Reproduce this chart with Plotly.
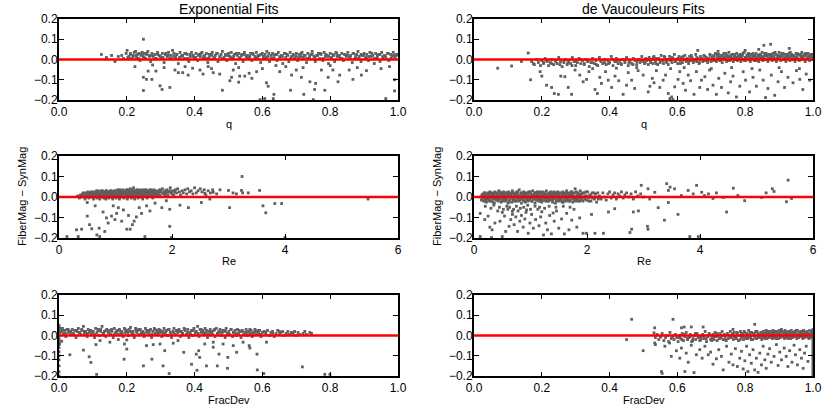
import plotly.graph_objects as go
from plotly.subplots import make_subplots

# ---------------- data (x, FiberMag - SynMag) ----------------
exp_q_band = [(.125,.025),(.14,.01),(.155,.02),(.165,-.01),(.175,.015),(.185,.02),(.19,.005),(.198,.03),(.201,.045),(.206,.015),
(.21,.025),(.214,.005),(.218,.02),(.222,.035),(.226,.04),(.229,.01),(.232,.025),(.236,.03),(.239,-.005),(.242,.02),
(.245,.035),(.248,.015),(.252,.03),(.255,.005),(.258,.025),(.262,.04),(.266,.02),(.27,-.01),(.274,.03),(.278,.015),
(.283,.025),(.287,.005),(.291,.035),(.296,.02),(.3,.01),(.305,.03),(.31,-.015),(.314,.025),(.319,.015),(.323,.035),
(.327,.005),(.331,.02),(.335,.045),(.339,.03),(.344,.01),(.348,.025),(.352,-.02),(.357,.035),(.361,.015),(.365,.02),
(.37,.005),(.374,.03),(.378,.025),(.383,-.01),(.387,.015),(.391,.035),(.396,.02),(.4,.01),(.404,.03),(.409,-.005),
(.413,.025),(.417,.015),(.422,.035),(.426,.005),(.43,.02),(.435,.03),(.439,-.015),(.443,.01),(.448,.025),(.452,.035),
(.456,.005),(.461,.02),(.465,.03),(.469,-.01),(.474,.015),(.478,.025),(.482,.04),(.487,.01),(.491,.02),(.495,-.005),
(.5,.03),(.504,.015),(.508,.035),(.513,.005),(.517,.025),(.521,-.02),(.526,.02),(.53,.03),(.534,.01),(.539,.025),
(.543,-.01),(.547,.035),(.552,.015),(.556,.02),(.56,.005),(.565,.03),(.569,-.005),(.573,.025),(.578,.015),(.582,.035),
(.586,.01),(.591,.02),(.595,-.015),(.6,.03),(.604,.005),(.608,.025),(.613,.04),(.617,.015),(.621,-.01),(.626,.02),
(.63,.03),(.634,.005),(.639,.025),(.643,-.005),(.647,.035),(.652,.015),(.656,.02),(.66,-.02),(.665,.03),(.669,.01),
(.673,.025),(.678,-.01),(.682,.035),(.686,.015),(.691,.02),(.695,.005),(.7,.03),(.704,-.005),(.708,.025),(.713,.015),
(.717,.035),(.721,.01),(.726,.02),(.73,-.015),(.734,.03),(.739,.005),(.743,.025),(.747,.04),(.752,.015),(.756,-.01),
(.76,.02),(.765,.03),(.769,.005),(.773,.025),(.778,-.005),(.782,.035),(.786,.015),(.791,.02),(.795,-.02),(.8,.03),
(.804,.01),(.808,.025),(.813,-.01),(.817,.035),(.821,.015),(.826,.02),(.83,.005),(.834,.03),(.839,-.005),(.843,.025),
(.847,.015),(.852,.035),(.856,.01),(.86,.02),(.865,-.015),(.869,.03),(.873,.005),(.878,.025),(.882,.04),(.886,.015),
(.891,-.01),(.895,.02),(.9,.03),(.904,.005),(.908,.025),(.913,-.005),(.917,.035),(.921,.015),(.926,.02),(.93,-.02),
(.934,.03),(.939,.01),(.943,.025),(.947,-.01),(.952,.035),(.956,.015),(.96,.02),(.965,.005),(.969,.03),(.973,-.005),
(.978,.025),(.982,.015),(.986,.035),(.991,.01),(.995,.02),(.998,.025)]
exp_q_band2 = [(.203,.01),(.211,.03),(.219,.015),(.227,.02),(.235,.005),(.243,.025),(.251,.01),(.259,.03),(.267,.015),(.275,.02),
(.283,.005),(.291,.025),(.299,.015),(.307,.01),(.315,.03),(.323,.02),(.331,.005),(.339,.015),(.347,.025),(.355,.01),
(.363,.02),(.371,.03),(.379,.005),(.387,.025),(.395,.015),(.403,.01),(.411,.02),(.419,.03),(.427,.015),(.435,.005),
(.443,.025),(.451,.02),(.459,.01),(.467,.03),(.475,.015),(.483,.005),(.491,.025),(.499,.02),(.507,.01),(.515,.015),
(.523,.03),(.531,.005),(.539,.02),(.547,.025),(.555,.01),(.563,.015),(.571,.03),(.579,.005),(.587,.02),(.595,.025),
(.603,.015),(.611,.01),(.619,.03),(.627,.005),(.635,.02),(.643,.025),(.651,.01),(.659,.015),(.667,.03),(.675,.02),
(.683,.005),(.691,.025),(.699,.015),(.707,.01),(.715,.03),(.723,.02),(.731,.005),(.739,.015),(.747,.025),(.755,.01),
(.763,.02),(.771,.03),(.779,.005),(.787,.025),(.795,.015),(.803,.01),(.811,.02),(.819,.03),(.827,.015),(.835,.005),
(.843,.025),(.851,.02),(.859,.01),(.867,.03),(.875,.015),(.883,.005),(.891,.025),(.899,.02),(.907,.01),(.915,.015),
(.923,.03),(.931,.005),(.939,.02),(.947,.025),(.955,.01),(.963,.015),(.971,.03),(.979,.005),(.987,.02),(.995,.025)]
exp_q_out = [(.224,-.035),(.249,.10),(.249,-.088),(.249,-.153),(.258,-.098),(.274,-.098),(.263,-.057),(.286,-.057),
(.276,-.027),(.298,-.13),(.304,-.148),(.327,-.138),(.342,-.052),(.352,-.065),(.365,-.065),(.372,-.035),(.381,-.077),
(.394,-.043),(.416,-.052),(.425,-.072),(.44,-.035),(.455,-.065),(.474,-.072),(.482,-.152),(.504,-.105),(.509,-.088),
(.514,-.052),(.53,-.112),(.533,-.082),(.548,-.082),(.561,-.068),(.569,-.093),(.583,-.06),(.593,-.198),(.607,-.193),
(.612,-.115),(.617,-.132),(.632,-.193),(.634,-.172),(.651,-.06),(.669,-.035),(.683,-.152),(.686,-.077),(.7,-.052),
(.715,-.088),(.722,-.172),(.74,-.11),(.75,-.198),(.754,-.148),(.757,-.118),(.774,-.052),(.784,-.152),(.794,-.088),
(.808,-.052),(.823,-.11),(.828,-.077),(.856,-.052),(.867,-.098),(.892,-.077),(.907,-.055),(.964,-.193),(.975,-.035),
(.99,-.155),(.99,-.1),(.31,-.04),(.45,-.045),(.53,-.04),(.6,-.045),(.64,-.03),(.72,-.04),(.8,-.03),(.88,-.04),(.95,-.045)]

dev_q_band = [(.17,-.01),(.178,-.025),(.185,.0),(.19,-.015),(.196,-.03),(.2,-.005),(.205,-.02),(.21,.005),(.215,-.01),(.22,-.03),
(.225,-.015),(.23,.0),(.235,-.025),(.24,-.005),(.245,-.02),(.25,.01),(.255,-.01),(.26,-.035),(.265,-.015),(.27,.0),
(.275,-.025),(.28,-.005),(.285,-.02),(.29,.01),(.295,-.01),(.3,-.03),(.305,-.015),(.31,.005),(.315,-.02),(.32,-.005),
(.325,-.025),(.33,.0),(.335,-.01),(.34,-.035),(.345,-.015),(.35,.005),(.355,-.02),(.36,-.005),(.365,-.03),(.37,.01),
(.375,-.01),(.38,-.02),(.385,.0),(.39,-.025),(.395,-.005),(.4,-.015),(.405,.015),(.41,-.03),(.415,-.01),(.42,.005),
(.425,-.02),(.43,-.005),(.435,-.025),(.44,.0),(.445,-.015),(.45,.01),(.455,-.03),(.46,-.01),(.465,-.02),(.47,.005),
(.475,-.005),(.48,-.025),(.485,.0),(.49,-.015),(.495,.015),(.5,-.01),
(.503,-.02),(.507,.005),(.51,-.005),(.514,-.025),(.517,.01),(.521,-.015),(.524,.0),(.528,-.02),(.531,.015),(.535,-.01),
(.538,.005),(.542,-.025),(.545,.0),(.549,-.015),(.552,.02),(.556,-.005),(.559,-.02),(.563,.01),(.566,-.01),(.57,.0),
(.573,-.025),(.577,.015),(.58,-.005),(.584,-.015),(.587,.005),(.591,.025),(.594,-.01),(.598,.0),(.601,-.02),(.605,.015),
(.608,-.005),(.612,.01),(.615,-.015),(.619,.0),(.622,.02),(.626,-.01),(.629,.005),(.633,-.02),(.636,.015),(.64,-.005),
(.643,.01),(.647,-.015),(.65,.0),(.654,.025),(.657,-.01),(.661,.005),(.664,-.02),(.668,.015),(.671,.0),(.675,-.01),
(.678,.02),(.682,-.005),(.685,.01),(.689,-.015),(.692,.005),(.696,.025),(.699,-.01),
(.702,.01),(.705,-.005),(.707,.02),(.71,.0),(.712,.03),(.715,-.01),(.717,.015),(.72,.005),(.722,.025),(.725,-.005),
(.727,.01),(.73,.02),(.732,-.015),(.735,.005),(.737,.03),(.74,.0),(.742,.015),(.745,-.01),(.747,.02),(.75,.01),
(.752,.035),(.755,-.005),(.757,.015),(.76,.005),(.762,.025),(.765,-.01),(.767,.01),(.77,.02),(.772,.0),(.775,.03),
(.777,-.005),(.78,.015),(.782,.01),(.785,.025),(.787,-.01),(.79,.005),(.792,.02),(.795,.0),(.797,.035),(.8,.01),
(.802,-.005),(.805,.02),(.807,.015),(.81,.03),(.812,.0),(.815,-.01),(.817,.025),(.82,.005),(.822,.015),(.825,.02),
(.827,-.005),(.83,.01),(.832,.03),(.835,.0),(.837,.02),(.84,-.01),(.842,.015),(.845,.025),(.847,.005),(.85,.035),
(.852,-.005),(.855,.01),(.857,.02),(.86,.0),(.862,.03),(.865,.015),(.867,-.01),(.87,.025),(.872,.005),(.875,.02),
(.877,.01),(.88,-.005),(.882,.03),(.885,.015),(.887,.0),(.89,.025),(.892,-.01),(.895,.02),(.897,.005),(.9,.035),
(.902,.01),(.905,-.005),(.907,.02),(.91,.015),(.912,.03),(.915,.0),(.917,.025),(.92,-.01),(.922,.01),(.925,.02),
(.927,.005),(.93,.03),(.932,-.005),(.935,.015),(.937,.025),(.94,.0),(.942,.02),(.945,.01),(.947,-.01),(.95,.03),
(.952,.015),(.955,.005),(.957,.025),(.96,-.005),(.962,.02),(.965,.01),(.967,.035),(.97,.0),(.972,.015),(.975,.025),
(.977,-.01),(.98,.02),(.982,.005),(.985,.03),(.987,.01),(.99,-.005),(.992,.02),(.995,.015),(.997,.025),(.999,.0)]
dev_q_band2 = [(.205,-.015),(.217,-.005),(.229,-.02),(.241,-.01),(.253,-.025),(.265,-.005),(.277,-.015),(.289,-.03),(.301,-.01),(.313,.0),
(.325,-.02),(.337,-.005),(.349,-.015),(.361,-.025),(.373,-.005),(.385,-.015),(.397,-.02),(.409,.0),(.421,-.01),(.433,-.02),
(.445,-.005),(.457,-.015),(.469,-.025),(.481,-.01),(.493,-.005),
(.505,-.015),(.513,.0),(.521,-.01),(.529,.01),(.537,-.02),(.545,.005),(.553,-.005),(.561,.015),(.569,-.015),(.577,.0),
(.585,.01),(.593,-.01),(.601,.005),(.609,-.02),(.617,.015),(.625,.0),(.633,-.01),(.641,.02),(.649,-.005),(.657,.01),
(.665,-.015),(.673,.005),(.681,.015),(.689,-.005),(.697,.02),(.703,.005),(.708,.015),(.713,-.005),(.718,.025),(.723,.01),
(.728,.0),(.733,.02),(.738,.01),(.743,.03),(.748,-.005),(.753,.015),(.758,.02),(.763,.005),(.768,.025),(.773,.01),
(.778,.0),(.783,.02),(.788,.015),(.793,.03),(.798,-.005),(.803,.01),(.808,.025),(.813,.015),(.818,.005),(.823,.03),
(.828,.02),(.833,-.005),(.838,.01),(.843,.025),(.848,.015),(.853,.005),(.858,.03),(.863,.02),(.868,.0),(.873,.015),
(.878,.025),(.883,.01),(.888,.035),(.893,.005),(.898,.02),(.903,.015),(.908,.03),(.913,.0),(.918,.01),(.923,.025),
(.928,.015),(.933,.035),(.938,.005),(.943,.02),(.948,.01),(.953,.03),(.958,.0),(.963,.025),(.968,.015),(.973,.02),
(.978,.03),(.983,.005),(.988,.015),(.993,.025),(.998,.01)]
dev_q_out = [(.07,-.043),(.111,-.032),(.14,-.01),(.16,.032),(.167,-.10),(.175,-.02),(.195,-.06),(.2,-.082),(.214,-.127),
(.229,-.138),(.237,-.168),(.249,-.172),(.256,-.082),(.268,-.085),(.278,-.138),(.288,-.172),(.298,-.052),(.312,-.077),
(.322,-.11),(.332,-.098),(.339,-.06),(.357,-.148),(.364,-.168),(.371,-.088),(.376,-.118),(.388,-.06),(.396,-.102),
(.406,-.138),(.416,-.082),(.42,-.043),(.427,-.105),(.44,-.172),(.45,-.127),(.455,-.065),(.465,-.102),(.474,-.143),
(.484,-.055),(.499,-.077),(.514,-.16),(.519,-.132),(.526,-.093),(.531,-.115),(.538,-.055),(.548,-.138),(.558,-.102),
(.565,-.077),(.573,-.168),(.578,-.193),(.583,-.185),(.587,-.198),(.592,-.135),(.602,-.098),(.607,-.06),(.617,-.118),
(.624,-.152),(.632,-.077),(.639,-.105),(.649,-.172),(.656,-.06),(.666,-.138),(.671,-.102),(.681,-.085),(.689,-.148),
(.695,-.052),(.705,-.127),(.715,-.172),(.722,-.093),(.73,-.138),(.74,-.068),(.75,-.165),(.757,-.11),(.764,-.082),
(.774,-.185),(.784,-.132),(.794,-.06),(.801,-.102),(.813,-.16),(.823,-.088),(.833,-.132),(.843,-.052),(.853,-.102),
(.86,-.188),(.867,-.143),(.877,-.077),(.887,-.177),(.897,-.11),(.907,-.06),(.916,-.138),(.926,-.088),(.941,-.115),
(.951,-.055),(.961,-.098),(.97,-.148),(.98,-.072),(.99,-.102),(.855,.07),(.875,.075),(.84,.05),(.93,.055),(.8,.045),
(.72,.04),(.66,.045),(.35,-.045),(.48,-.04),(.58,-.045),(.62,-.04),(.7,-.045),(.76,-.04),(.82,-.045),(.9,-.04),(.96,-.045)]

exp_re_band = [(.33,.005),(.36,-.005),(.38,.01),(.4,.0),(.42,.015),(.44,.005),(.46,-.01),(.47,.02),(.49,.01),(.5,.0),
(.52,.015),(.53,-.005),(.55,.02),(.56,.01),(.57,.025),(.59,.0),(.6,.015),(.61,-.01),(.62,.02),(.64,.005),
(.65,.025),(.66,.01),(.67,-.005),(.68,.02),(.69,.03),(.7,.005),(.71,.015),(.72,-.01),(.73,.025),(.74,.01),
(.75,.02),(.76,.0),(.77,.03),(.78,.015),(.79,-.005),(.8,.025),(.81,.01),(.82,.02),(.83,-.01),(.84,.03),
(.85,.015),(.86,.005),(.87,.025),(.88,-.005),(.89,.02),(.9,.01),(.91,.03),(.92,.0),(.93,.02),(.94,.015),
(.95,-.01),(.96,.025),(.97,.005),(.98,.03),(.99,.01),(1.0,.02),(1.01,-.005),(1.02,.025),(1.03,.015),(1.04,.035),
(1.05,.005),(1.06,.02),(1.07,-.01),(1.08,.03),(1.09,.01),(1.1,.025),(1.11,.0),(1.12,.02),(1.13,.035),(1.14,.015),
(1.15,-.005),(1.16,.025),(1.17,.01),(1.18,.03),(1.19,.005),(1.2,.02),(1.21,-.01),(1.22,.035),(1.23,.015),(1.24,.025),
(1.25,.005),(1.26,.04),(1.27,.02),(1.28,-.005),(1.29,.03),(1.3,.01),(1.31,.025),(1.32,.045),(1.33,.015),(1.34,-.01),
(1.35,.03),(1.36,.02),(1.37,.005),(1.38,.035),(1.39,.015),(1.4,-.005),(1.41,.025),(1.42,.01),(1.43,.03),(1.44,.02),
(1.45,.0),(1.46,.035),(1.47,.015),(1.48,-.01),(1.49,.025),(1.5,.01),(1.51,.03),(1.52,.02),(1.53,.005),(1.54,.035),
(1.55,.015),(1.56,-.005),(1.57,.025),(1.58,.03),(1.59,.01),(1.6,.02),(1.61,.035),(1.62,.005),(1.63,.025),(1.64,.015),
(1.65,.03),(1.66,-.005),(1.67,.02),(1.68,.035),(1.69,.01),(1.7,.025),(1.72,.015),(1.73,.03),(1.75,.005),(1.76,.02),
(1.78,.035),(1.79,.01),(1.81,.025),(1.83,.04),(1.85,.015),(1.87,.03),(1.89,.02),(1.91,.035),(1.93,.01),(1.95,.025),
(1.97,.045),(1.99,.02),(2.01,.03),(2.03,.01),(2.06,.035),(2.08,.02),(2.1,.04),(2.13,.025),(2.15,.01),(2.18,.03),
(2.2,.02),(2.23,.035),(2.26,.015),(2.28,.04),(2.31,.025),(2.34,.03),(2.37,.015),(2.4,.045),(2.43,.02),(2.46,.03),
(2.5,.04),(2.53,.025),(2.57,.035),(2.6,.01),(2.64,.03),(2.68,.02),(2.72,.035)]
exp_re_band2 = [(.41,.01),(.43,.02),(.45,.005),(.48,.015),(.51,.025),(.54,.01),(.565,.02),(.585,.005),(.605,.025),(.625,.015),
(.645,.01),(.665,.03),(.685,.005),(.7,.02),(.715,.025),(.73,.01),(.745,.03),(.76,.015),(.775,.005),(.79,.025),
(.805,.02),(.82,.01),(.835,.03),(.85,.005),(.865,.02),(.88,.025),(.895,.015),(.91,.005),(.925,.03),(.94,.02),
(.955,.01),(.97,.025),(.985,.015),(1.0,.03),(1.015,.005),(1.03,.02),(1.045,.025),(1.06,.01),(1.075,.035),(1.09,.02),
(1.105,.005),(1.12,.03),(1.135,.015),(1.15,.025),(1.165,.01),(1.18,.02),(1.195,.035),(1.21,.015),(1.225,.005),(1.24,.03),
(1.255,.02),(1.27,.01),(1.285,.025),(1.3,.035),(1.315,.015),(1.33,.005),(1.345,.02),(1.36,.03),(1.375,.01),(1.39,.025),
(1.405,.035),(1.42,.015),(1.435,.02),(1.45,.03),(1.465,.005),(1.48,.025),(1.495,.015),(1.51,.035),(1.525,.01),(1.54,.02),
(1.555,.03),(1.57,.015),(1.585,.005),(1.6,.025),(1.615,.02),(1.63,.035),(1.645,.01),(1.66,.025),(1.675,.015),(1.69,.03),
(1.71,.02),(1.74,.01),(1.77,.025),(1.8,.03),(1.84,.02),(1.88,.01),(1.92,.025),(1.96,.03),(2.0,.015),(2.05,.025)]
exp_re_out = [(.14,-.193),(.34,-.193),(.31,-.16),(.4,-.157),(.5,-.027),(.5,-.093),(.54,-.135),(.58,-.155),(.64,-.043),
(.67,-.185),(.71,-.152),(.72,-.193),(.78,-.073),(.81,-.168),(.84,-.102),(.87,-.127),(.93,-.093),(.96,-.043),(.99,-.11),
(1.02,-.08),(1.05,-.052),(1.11,-.118),(1.14,-.063),(1.2,-.157),(1.23,-.09),(1.26,-.157),(1.3,-.135),(1.33,-.118),
(1.37,-.097),(1.42,-.052),(1.46,-.08),(1.52,-.193),(1.55,-.043),(1.61,-.068),(1.7,-.03),(1.82,-.052),(1.9,-.018),
(1.96,-.06),(1.96,-.143),(1.99,-.197),(2.14,-.04),(2.29,-.052),(2.52,-.027),(3.02,-.052),(2.67,-.01),(2.85,.035),
(3.0,.032),(3.08,.02),(3.23,.032),(3.24,.10),(3.25,.02),(3.35,.02),(3.55,.032),(3.61,-.043),(3.66,-.077),(3.82,-.032),
(3.94,-.032),(4.0,-.197),(5.47,-.01),(2.73,.023),(2.58,.018),(2.79,.015),(3.14,.015)]

dev_re_band = [(.12,.0),(.13,-.015),(.14,.01),(.15,-.005),(.16,.015),(.17,-.02),(.18,.005),(.19,.02),(.2,-.01),(.21,.01),
(.22,-.025),(.23,.015),(.24,.0),(.25,.02),(.26,-.015),(.27,.005),(.28,.025),(.29,-.005),(.3,.01),(.31,-.02),
(.32,.02),(.33,.0),(.34,-.01),(.35,.015),(.36,-.03),(.37,.025),(.38,.005),(.39,-.015),(.4,.02),(.41,-.005),
(.42,.01),(.43,-.02),(.44,.03),(.45,.0),(.46,-.01),(.47,.015),(.48,-.025),(.49,.02),(.5,.005),(.51,-.015),
(.52,.025),(.53,-.005),(.54,.01),(.55,-.02),(.56,.02),(.57,.0),(.58,-.01),(.59,.015),(.6,-.03),(.61,.025),
(.62,.005),(.63,-.015),(.64,.02),(.65,-.005),(.66,.01),(.67,-.025),(.68,.03),(.69,.0),(.7,-.01),(.71,.015),
(.72,-.02),(.73,.02),(.74,.005),(.75,-.015),(.76,.025),(.77,-.005),(.78,.01),(.79,-.02),(.8,.035),(.81,.0),
(.82,-.01),(.83,.015),(.84,-.03),(.85,.02),(.86,.005),(.87,-.015),(.88,.025),(.89,-.005),(.9,.01),(.91,-.025),
(.92,.02),(.93,.0),(.94,-.01),(.95,.015),(.96,-.02),(.97,.025),(.98,.005),(.99,-.015),(1.0,.02),(1.01,-.005),
(1.02,.01),(1.03,-.02),(1.04,.03),(1.05,.0),(1.06,-.01),(1.07,.015),(1.08,-.03),(1.09,.02),(1.1,.005),(1.11,-.015),
(1.12,.025),(1.13,-.005),(1.14,.01),(1.15,-.02),(1.16,.02),(1.17,.0),(1.18,-.01),(1.19,.015),(1.2,-.025),(1.21,.025),
(1.22,.005),(1.23,-.015),(1.24,.02),(1.25,-.005),(1.26,.01),(1.27,-.02),(1.28,.03),(1.29,.0),(1.3,-.01),(1.31,.015),
(1.32,-.02),(1.33,.02),(1.34,.005),(1.35,-.015),(1.36,.025),(1.37,-.005),(1.38,.01),(1.39,-.025),(1.4,.02),(1.41,.0),
(1.42,-.01),(1.43,.015),(1.44,-.03),(1.45,.02),(1.46,.005),(1.47,-.015),(1.48,.025),(1.49,-.005),(1.5,.01),(1.51,-.02),
(1.52,.02),(1.53,.0),(1.54,-.01),(1.55,.015),(1.56,-.025),(1.57,.025),(1.58,.005),(1.59,-.015),(1.6,.02),(1.61,-.005),
(1.62,.01),(1.63,-.02),(1.64,.03),(1.65,.0),(1.66,-.01),(1.67,.015),(1.68,-.02),(1.69,.02),(1.7,.005),(1.71,-.015),
(1.72,.025),(1.73,-.005),(1.74,.01),(1.75,-.025),(1.76,.02),(1.77,.0),(1.78,-.01),(1.79,.04),(1.8,-.02),(1.81,.025),
(1.82,.005),(1.83,-.015),(1.84,.02),(1.85,-.005),(1.86,.01),(1.87,-.02),(1.88,.03),(1.89,.0),(1.9,-.01),(1.91,.015),
(1.93,-.02),(1.95,.02),(1.97,.005),(1.99,-.015),(2.01,.025),(2.03,-.005),(2.05,.01),(2.07,-.02),(2.09,.02),(2.11,.0),
(2.13,-.01),(2.15,.015),(2.17,-.025),(2.19,.02),
(2.22,.005),(2.25,-.01),(2.28,.02),(2.31,.0),(2.34,-.015),(2.37,.015),(2.4,.025),(2.43,-.005),(2.46,.01),(2.49,.02),
(2.52,-.01),(2.55,.015),(2.58,.005),(2.61,.025),(2.64,-.005),(2.67,.01),(2.7,.02),(2.74,.0),(2.78,.015),(2.82,-.01),
(2.86,.025),(2.9,.005),(2.95,.015),(3.0,.0)]
dev_re_band2 = [(.155,.01),(.17,-.005),(.185,.02),(.2,-.02),(.215,.005),(.23,-.01),(.245,.015),(.26,.0),(.275,-.02),(.29,.02),
(.305,-.005),(.32,.01),(.335,-.025),(.35,.005),(.365,.02),(.38,-.01),(.395,.0),(.41,.015),(.425,-.015),(.44,.01),
(.455,.025),(.47,-.005),(.485,.0),(.5,-.02),(.515,.015),(.53,.005),(.545,-.01),(.56,.02),(.575,-.015),(.59,.0),
(.605,.01),(.62,-.025),(.635,.015),(.65,.005),(.665,-.005),(.68,.02),(.695,-.015),(.71,.0),(.725,.01),(.74,-.02),
(.755,.015),(.77,.025),(.785,-.005),(.8,.005),(.815,-.015),(.83,.02),(.845,.0),(.86,-.01),(.875,.01),(.89,-.02),
(.905,.015),(.92,.005),(.935,-.015),(.95,.02),(.965,.0),(.98,-.01),(.995,.025),(1.01,.005),(1.025,-.02),(1.04,.01),
(1.055,-.005),(1.07,.02),(1.085,.0),(1.1,-.015),(1.115,.015),(1.13,.005),(1.145,-.01),(1.16,.025),(1.175,-.02),(1.19,.0),
(1.205,.01),(1.22,-.015),(1.235,.02),(1.25,.005),(1.265,-.005),(1.28,.015),(1.295,-.02),(1.31,.0),(1.325,.01),(1.34,-.01),
(1.355,.02),(1.37,.005),(1.385,-.015),(1.4,.01),(1.415,.025),(1.43,-.005),(1.445,.0),(1.46,-.02),(1.475,.015),(1.49,.005),
(1.505,-.01),(1.52,.02),(1.535,-.015),(1.55,.0),(1.565,.01),(1.58,-.025),(1.595,.015),(1.61,.005),(1.625,-.005),(1.64,.02),
(1.655,-.015),(1.67,.0),(1.685,.01),(1.7,-.02),(1.715,.015),(1.73,.025),(1.745,-.005),(1.76,.005),(1.775,-.015),(1.79,.02),
(1.805,.0),(1.82,-.01),(1.835,.01),(1.85,-.02),(1.865,.015),(1.88,.005),(1.9,-.015),(1.92,.02),(1.94,.0),(1.96,-.01),
(1.98,.025),(2.0,.005),(2.03,-.02),(2.06,.01),(2.09,-.005),(2.12,.02),(2.16,.0),(2.2,-.01)]
dev_re_out = [(.11,-.08),(.19,-.11),(.25,-.093),(.28,-.147),(.32,-.16),(.37,-.127),(.42,-.068),(.46,-.118),(.5,-.193),
(.54,-.093),(.56,-.168),(.6,-.06),(.62,-.143),(.65,-.11),(.68,-.085),(.71,-.135),(.74,-.097),(.77,-.168),(.78,-.068),
(.81,-.118),(.84,-.09),(.87,-.147),(.9,-.107),(.93,-.063),(.96,-.177),(.99,-.127),(1.02,-.085),(1.05,-.152),(1.09,-.11),
(1.13,-.06),(1.15,-.14),(1.18,-.097),(1.23,-.185),(1.27,-.127),(1.3,-.16),(1.34,-.09),(1.37,-.18),(1.42,-.118),
(1.46,-.068),(1.5,-.152),(1.55,-.107),(1.6,-.18),(1.64,-.08),(1.68,-.16),(1.73,-.113),(1.77,-.06),(1.82,-.147),
(1.87,-.102),(1.93,-.177),(1.99,-.177),(2.08,-.085),(2.14,-.177),(2.29,-.177),(2.38,-.073),(2.49,-.057),(2.76,-.173),
(2.79,-.157),(2.82,-.073),(2.91,-.068),(3.07,-.143),(3.08,-.157),(3.26,-.052),(3.37,-.113),(3.61,-.085),(3.82,-.193),
(3.97,-.193),(4.47,-.073),(.11,-.193),(.31,-.198),
(.2,-.045),(.3,-.055),(.35,-.04),(.45,-.05),(.52,-.06),(.58,-.045),(.63,-.05),(.7,-.06),(.75,-.045),(.82,-.055),
(.88,-.05),(.95,-.04),(1.0,-.06),(1.08,-.045),(1.16,-.05),(1.25,-.055),(1.33,-.045),(1.45,-.05),(1.58,-.045),(1.7,-.05),
(.5,-.075),(.68,-.07),(.92,-.075),(1.2,-.072),(1.4,-.078),
(3.41,.065),(3.47,.048),(3.55,.04),(3.79,.032),(3.94,.057),(4.03,.023),(4.15,.015),(4.29,.02),(4.59,.043),(4.67,.007),
(5.17,.02),(5.28,.04),(5.31,.027),(5.56,.082),(5.53,-.023),(5.62,-.007),(4.79,-.018),(5.09,-.002),(4.41,-.002),
(4.23,-.007),(4.08,.007),(3.88,.015),(3.67,.007),(3.44,.032),(3.2,.023),(3.08,.04),(2.96,.057),(3.11,-.01),(3.44,-.027)]

exp_fd_band = [(.005,.02),(.01,.035),(.013,.01),(.017,.025),(.02,-.005),(.024,.03),(.028,.015),(.031,.02),(.035,.005),(.039,.03),
(.042,.01),(.046,.025),(.05,-.01),(.053,.02),(.057,.035),(.061,.015),(.064,.005),(.068,.025),(.072,.045),(.075,.01),
(.079,.02),(.083,-.005),(.086,.03),(.09,.015),(.094,.025),(.097,.005),(.101,.02),(.105,-.01),(.108,.035),(.112,.015),
(.116,.025),(.119,.0),(.123,.03),(.127,.045),(.13,.01),(.134,.02),(.138,-.005),(.141,.03),(.145,.015),(.149,.025),
(.152,.005),(.156,.02),(.16,-.01),(.163,.035),(.167,.015),(.171,.025),(.174,.005),(.178,.03),(.182,.01),(.185,.02),
(.189,-.005),(.193,.035),(.196,.015),(.2,.025),(.204,.0),(.207,.03),(.211,.04),(.215,.01),(.218,.02),(.222,-.01),
(.226,.035),(.229,.015),(.233,.025),(.237,.005),(.24,.03),(.244,.01),(.248,.02),(.251,-.005),(.255,.035),(.259,.015),
(.262,.025),(.266,.005),(.27,.03),(.273,-.01),(.277,.02),(.281,.035),(.284,.01),(.288,.025),(.292,.005),(.295,.03),
(.299,.015),(.303,-.005),(.306,.02),(.31,.035),(.314,.01),(.317,.025),(.321,.0),(.325,.03),(.328,.015),(.332,-.01),
(.336,.02),(.339,.035),(.343,.005),(.347,.025),(.35,.015),(.354,.03),(.358,-.005),(.361,.02),(.365,.01),(.369,.035),
(.372,.025),(.376,.005),(.38,.03),(.383,-.01),(.387,.015),(.391,.025),(.394,.0),(.398,.035),(.402,.01),(.405,.02),
(.409,.045),(.413,-.005),(.416,.03),(.42,.015),(.424,.025),(.427,.005),(.431,.035),(.435,.01),(.438,-.01),(.442,.02),
(.446,.03),(.449,.015),(.453,.005),(.457,.025),(.46,-.005),(.464,.035),(.468,.01),(.471,.02),(.475,.03),(.479,.0),
(.482,.015),(.486,.025),(.49,-.01),(.493,.035),(.497,.01),(.501,.02),(.504,.005),(.508,.03),(.512,-.005),(.515,.015),
(.519,.025),(.523,.0),(.526,.03),(.53,.01),(.534,.02),(.537,-.01),(.541,.025),(.545,.005),(.548,.015),(.552,.03),
(.556,.0),(.559,.02),(.563,.01),(.567,.025),(.57,-.005),(.574,.015),(.578,.03),(.581,.005),(.585,.02),(.589,.01),
(.592,.025),(.596,-.005),(.6,.015),(.605,.02),(.61,.005),(.615,.025),(.62,.0),(.625,.015),(.63,.02),(.635,-.005),
(.64,.01),(.645,.025),(.65,.005),(.655,.015),(.66,.02),(.665,.0),(.67,.01),(.675,.02),(.68,.005),(.685,.015),
(.69,.01),(.695,.02),(.7,.0),(.705,.015),(.71,.005),(.72,.01),(.725,.02),(.73,.005),(.74,.015),(.745,.01)]
exp_fd_band2 = [(.003,.015),(.011,.025),(.019,.01),(.027,.03),(.035,.02),(.043,.005),(.051,.025),(.059,.015),(.067,.03),(.075,.02),
(.083,.01),(.091,.025),(.099,.015),(.107,.005),(.115,.03),(.123,.02),(.131,.01),(.139,.025),(.147,.015),(.155,.03),
(.163,.005),(.171,.02),(.179,.025),(.187,.01),(.195,.03),(.203,.015),(.211,.02),(.219,.005),(.227,.025),(.235,.03),
(.243,.015),(.251,.01),(.259,.025),(.267,.02),(.275,.005),(.283,.03),(.291,.015),(.299,.025),(.307,.01),(.315,.02),
(.323,.03),(.331,.005),(.339,.015),(.347,.025),(.355,.02),(.363,.01),(.371,.03),(.379,.015),(.387,.005),(.395,.025),
(.403,.02),(.411,.01),(.419,.03),(.427,.015),(.435,.025),(.443,.005),(.451,.02),(.459,.03),(.467,.01),(.475,.015),
(.483,.025),(.491,.02),(.499,.005),(.507,.03),(.515,.015),(.523,.01),(.531,.025),(.539,.02),(.547,.005),(.555,.015),
(.563,.03),(.571,.01),(.579,.02),(.587,.025),(.595,.005),(.61,.015),(.63,.01),(.65,.02),(.67,.005),(.69,.015)]
exp_fd_out = [(.008,-.028),(.032,-.095),(.072,-.072),(.089,-.105),(.094,-.133),(.111,-.192),(.109,-.045),(.121,-.025),
(.175,-.02),(.192,-.117),(.193,-.042),(.2,-.022),(.249,-.15),(.258,-.05),(.274,-.117),(.298,-.042),(.307,-.15),
(.312,-.075),(.325,-.188),(.337,-.038),(.351,-.025),(.368,-.083),(.391,-.142),(.405,-.092),(.407,-.172),(.412,-.075),
(.415,-.108),(.43,-.042),(.435,-.15),(.455,-.058),(.467,-.15),(.472,-.092),(.484,-.042),(.497,-.162),(.498,-.108),
(.514,-.05),(.524,-.083),(.543,-.033),(.561,-.05),(.563,-.062),(.584,-.092),(.585,-.17),(.612,-.033),(.604,-.188),
(.718,-.155),(.784,-.192),(.799,-.192),(.2,-.067),(.278,-.045),(.455,-.033),(.15,-.033),
(0,.05),(0,.04),(0,.03),(0,.02),(0,.01),(0,-.01),(0,-.02),(0,-.03),(0,-.045),(0,-.06),(0,-.08),(0,-.1),
(0,-.12),(0,-.15),(0,-.18),(0,-.2),(.002,.035),(.002,-.04)]

dev_fd_band = [(.535,-.01),(.54,.005),(.545,-.02),(.55,-.005),(.555,.01),(.56,-.025),(.565,-.01),(.57,.0),(.574,-.03),(.578,.015),
(.582,-.015),(.586,-.005),(.59,-.02),(.594,.005),(.598,-.01),(.602,-.03),(.606,.0),(.61,-.015),(.614,.01),(.618,-.025),
(.622,-.005),(.626,.015),(.63,-.02),(.634,-.01),(.638,.005),(.642,-.03),(.646,-.015),(.65,.0),(.654,-.02),(.658,.01),
(.662,-.005),(.666,-.025),(.67,-.01),(.674,.005),(.678,-.015),(.682,.02),(.686,-.03),(.69,-.005),(.694,.01),(.698,-.02),
(.702,-.01),(.705,.005),(.708,-.02),(.711,.015),(.714,-.005),(.717,-.025),(.72,.0),(.723,-.015),(.726,.01),(.729,-.01),
(.732,.02),(.735,-.02),(.738,.005),(.741,-.005),(.744,-.025),(.747,.01),(.75,-.015),(.753,.0),(.756,.02),(.759,-.01),
(.762,.005),(.765,-.02),(.768,.015),(.771,-.005),(.774,-.015),(.777,.01),(.78,-.025),(.783,.0),(.786,.02),(.789,-.01),
(.792,.005),(.795,-.02),(.798,.015),(.801,-.005),(.804,.01),(.807,-.015),(.81,.025),(.813,.0),(.816,-.01),(.819,.015),
(.822,-.02),(.825,.005),(.828,-.005),(.831,.02),(.834,-.015),(.837,.01),(.84,-.01),(.843,.0),(.846,.015),(.849,-.02),
(.852,.005),(.854,.02),(.856,-.01),(.858,.01),(.86,-.005),(.862,.025),(.864,-.015),(.866,.005),(.868,.015),(.87,-.01),
(.872,.0),(.874,.02),(.876,-.005),(.878,.01),(.88,-.015),(.882,.025),(.884,.005),(.886,-.01),(.888,.015),(.89,.0),
(.892,.02),(.894,-.005),(.896,.01),(.898,-.015),(.9,.025),(.902,.005),(.904,-.01),(.906,.015),(.908,.0),(.91,.02),
(.912,-.005),(.914,.01),(.916,-.015),(.918,.025),(.92,.005),(.922,-.01),(.924,.015),(.926,.0),(.928,.02),(.93,-.005),
(.932,.01),(.934,-.015),(.936,.025),(.938,.005),(.94,-.01),(.942,.015),(.944,.0),(.946,.02),(.948,-.005),(.95,.01),
(.952,-.015),(.954,.025),(.956,.005),(.958,-.01),(.96,.015),(.962,.0),(.964,.02),(.966,-.005),(.968,.01),(.97,-.015),
(.972,.025),(.974,.005),(.976,-.01),(.978,.015),(.98,.0),(.982,.02),(.984,-.005),(.986,.01),(.988,-.015),(.99,.025),
(.992,.005),(.994,-.01),(.996,.015),(.998,.0)]
dev_fd_band2 = [(.605,-.01),(.613,-.02),(.621,.005),(.629,-.015),(.637,-.005),(.645,-.025),(.653,.01),(.661,-.01),(.669,-.02),(.677,.0),
(.685,-.015),(.693,.005),(.701,-.025),(.709,-.005),(.717,.01),(.725,-.015),(.733,.0),(.741,-.02),(.749,.005),(.757,-.01),
(.764,.01),(.768,-.005),(.772,-.015),(.776,.015),(.781,.0),(.785,-.02),(.789,.01),(.793,-.005),(.797,.02),(.802,-.015),
(.806,.005),(.81,-.01),(.814,.015),(.818,-.02),(.823,.0),(.827,.01),(.831,-.015),(.835,.02),(.839,-.005),(.844,.005),
(.848,-.01),(.851,.015),(.855,.0),(.859,-.015),(.863,.01),(.867,.02),(.871,-.005),(.875,.005),(.879,-.01),(.883,.015),
(.887,.02),(.891,-.015),(.895,.005),(.899,.01),(.903,-.005),(.907,.02),(.911,.0),(.915,-.01),(.919,.015),(.923,.005),
(.927,-.015),(.931,.02),(.935,.0),(.939,.01),(.943,-.005),(.947,.015),(.951,.025),(.955,-.01),(.959,.005),(.963,.015),
(.967,.0),(.971,.02),(.975,-.005),(.979,.01),(.983,.015),(.987,-.01),(.991,.005),(.995,.02),(.999,.01)]
dev_fd_out = [(.45,-.02),(.465,.08),(.499,-.075),(.533,.038),(.531,.013),(.533,-.037),(.535,-.045),(.553,-.178),(.555,-.187),
(.587,.08),(.62,.042),(.622,-.178),(.649,-.183),(.551,-.008),
(.563,-.053),(.577,-.037),(.582,-.103),(.597,-.075),(.607,-.112),(.612,-.062),(.626,-.087),(.632,-.132),(.641,-.048),
(.656,-.095),(.666,-.07),(.673,-.112),(.681,-.053),(.691,-.095),(.698,-.082),(.705,-.142),(.715,-.115),(.722,-.07),
(.73,-.103),(.735,-.17),(.745,-.053),(.752,-.132),(.759,-.092),(.764,-.145),(.771,-.065),(.777,-.153),(.784,-.112),
(.789,-.078),(.794,-.165),(.799,-.125),(.804,-.053),(.808,-.178),(.813,-.095),(.818,-.137),(.823,-.07),(.828,-.17),
(.833,-.112),(.838,-.182),(.843,-.087),(.848,-.145),(.853,-.053),(.858,-.12),(.862,-.162),(.867,-.092),(.872,-.065),
(.877,-.132),(.885,-.103),(.892,-.045),(.897,-.148),(.902,-.082),(.907,-.12),(.915,-.062),(.921,-.103),(.926,-.153),
(.931,-.075),(.938,-.132),(.944,-.048),(.948,-.095),(.954,-.145),(.961,-.07),(.966,-.112),(.971,-.162),(.975,-.087),
(.98,-.053),(.985,-.128),(.828,.055),(.764,.03),(.641,.042),(.676,.042),(.612,.038),(.907,.03),
(1,.03),(1,.025),(1,.02),(1,.015),(1,.01),(1,.005),(1,0),(1,-.005),(1,-.01),(1,-.02),(1,-.03),(1,-.04),(1,-.05),
(1,-.06),(1,-.07),(1,-.08),(1,-.09),(1,-.1),(1,-.11),(1,-.12),(1,-.13),(1,-.14),(1,-.15),(1,-.16),(1,-.17),(1,-.18),
(1,-.19),(1,-.2)]

panels = [  # (row, col, points, x-range, x tick values, x title)
    (1, 1, exp_q_band + exp_q_band2 + exp_q_out, [0, 1], [0, .2, .4, .6, .8, 1.0], "q"),
    (1, 2, dev_q_band + dev_q_band2 + dev_q_out, [0, 1], [0, .2, .4, .6, .8, 1.0], "q"),
    (2, 1, exp_re_band + exp_re_band2 + exp_re_out, [0, 6], [0, 2, 4, 6], "Re"),
    (2, 2, dev_re_band + dev_re_band2 + dev_re_out, [0, 6], [0, 2, 4, 6], "Re"),
    (3, 1, exp_fd_band + exp_fd_band2 + exp_fd_out, [0, 1], [0, .2, .4, .6, .8, 1.0], "FracDev"),
    (3, 2, dev_fd_band + dev_fd_band2 + dev_fd_out, [0, 1], [0, .2, .4, .6, .8, 1.0], "FracDev"),
]
col_titles = ["Exponential Fits", "de Vaucouleurs Fits"]
y_title = "FiberMag − SynMag"
y_ticks = [-0.2, -0.1, 0.0, 0.1, 0.2]

# ---------------- layout geometry (pixels in an 830 x 415 canvas) ----------------
W, H = 830, 415
col_px = [(59, 398), (474, 813)]
row_px = [(19, 100), (156, 238), (295, 376)]
xtitle_px = [124, 261, 400]
FONT = "Liberation Sans, Arial, Helvetica, sans-serif"

fig = make_subplots(rows=3, cols=2)
for (r, c, pts, xr, xt, xtitle) in panels:
    xs = [p[0] for p in pts]
    ys = [p[1] for p in pts]
    fig.add_trace(go.Scatter(x=xs, y=ys, mode="markers",
                             marker=dict(size=2.8, color="#5f5f5f", symbol="square", line=dict(width=0)),
                             hoverinfo="skip"), row=r, col=c)
    fig.add_hline(y=0, line=dict(color="#ff0000", width=2.6), row=r, col=c)
    x0, x1 = col_px[c - 1]
    y0, y1 = row_px[r - 1]
    fmt = ".1f" if xr[1] == 1 else "d"
    fig.update_xaxes(domain=[x0 / W, x1 / W], range=xr, tickvals=xt, tickformat=fmt,
                     ticks="inside", ticklen=4, tickwidth=1, tickcolor="black",
                     showline=True, linewidth=2, linecolor="black", mirror="ticks",
                     showgrid=False, zeroline=False, automargin=False,
                     tickfont=dict(size=12, family=FONT), row=r, col=c)
    fig.update_yaxes(domain=[1 - y1 / H, 1 - y0 / H], range=[-0.2, 0.2], tickvals=y_ticks, tickformat=".1f",
                     ticks="inside", ticklen=5, tickwidth=1, tickcolor="black",
                     showline=True, linewidth=2, linecolor="black", mirror="ticks",
                     showgrid=False, zeroline=False, automargin=False, ticklabelstandoff=-3,
                     tickfont=dict(size=12, family=FONT), row=r, col=c)
    fig.add_annotation(text=xtitle, x=(x0 + x1) / 2 / W, y=1 - xtitle_px[r - 1] / H, xref="paper", yref="paper",
                       showarrow=False, xanchor="center", yanchor="middle",
                       font=dict(size=11, family=FONT, color="black"))

for c in range(2):
    x0, x1 = col_px[c]
    fig.add_annotation(text=col_titles[c], x=(x0 + x1) / 2 / W, y=1 - 9 / H, xref="paper", yref="paper",
                       showarrow=False, xanchor="center", yanchor="middle",
                       font=dict(size=14, family=FONT, color="black"))
    fig.add_annotation(text=y_title, x=(x0 - 37) / W, y=1 - 197 / H, xref="paper", yref="paper",
                       showarrow=False, xanchor="center", yanchor="middle", textangle=-90,
                       font=dict(size=11, family=FONT, color="black"))

fig.update_layout(width=W, height=H, margin=dict(l=0, r=0, t=0, b=0),
                  plot_bgcolor="white", paper_bgcolor="white", showlegend=False,
                  font=dict(family=FONT, color="black"))
fig.write_html("out.html", config={"displayModeBar": False},
               post_script="document.body.style.margin='0px';document.body.style.overflow='hidden';")
